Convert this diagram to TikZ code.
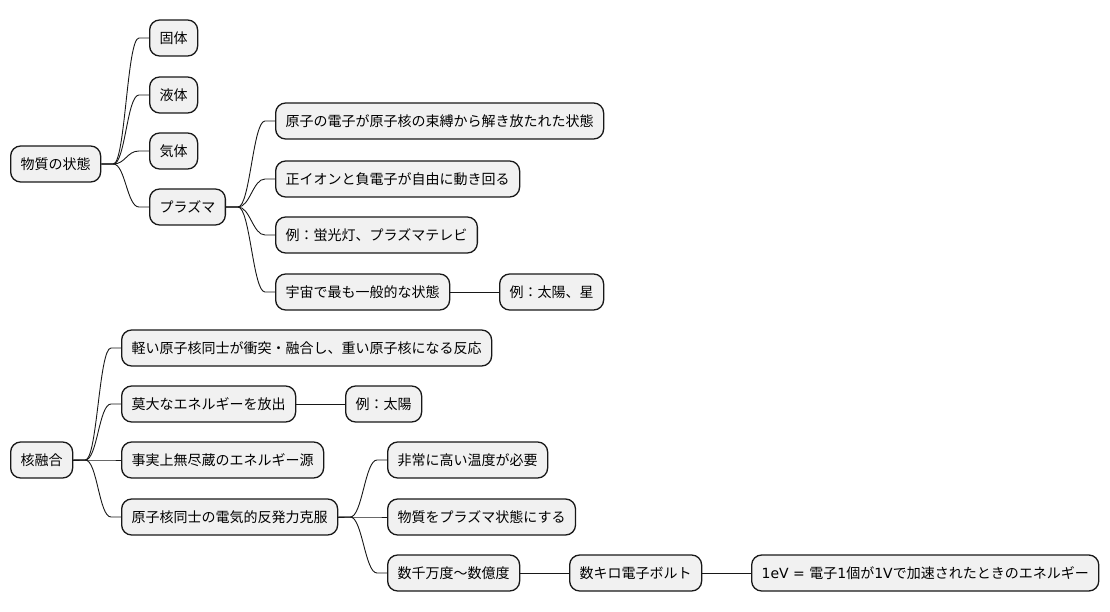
\documentclass[tikz,border=0pt]{standalone}
\usepackage{fontspec}
\setmainfont{Noto Sans CJK JP}
\newfontfamily\latn{DejaVu Sans}
\usetikzlibrary{calc}

\definecolor{boxfill}{HTML}{F1F1F1}
\definecolor{boxline}{HTML}{181818}

\newcommand{\branch}[2]{%
  \draw [link] (#1.east) -- ++(12,0) .. controls +(12,0) and +(-12,0) .. ($(#2.west)+(-10,0)$) -- (#2.west);}

\begin{document}
\begin{tikzpicture}[
    x=1pt, y=-1pt,
    every node/.style={font=\fontsize{14pt}{16pt}\selectfont},
    topic/.style={
        rectangle, rounded corners=10pt,
        minimum height=36pt,
        inner xsep=10pt,
        fill=boxfill, draw=boxline, line width=1.3pt,
        anchor=west
    },
    link/.style={draw=boxline, line width=0.9pt},
]
\useasboundingbox (0,0) rectangle (1110,612);

% Nodes
\node (state) [topic] at (10,164) {物質の状態};
\node (solid) [topic] at (149,38) {固体};
\node (liquid) [topic] at (149,95) {液体};
\node (gas) [topic] at (149,151) {気体};
\node (plasma) [topic] at (149,207) {プラズマ};

\node (freed) [topic] at (275,121) {原子の電子が原子核の束縛から解き放たれた状態};
\node (ions) [topic] at (275,179) {正イオンと負電子が自由に動き回る};
\node (lamp) [topic] at (275,235) {例：蛍光灯、プラズマテレビ};
\node (common) [topic] at (275,292) {宇宙で最も一般的な状態};
\node (stars) [topic] at (499,292) {例：太陽、星};

\node (fusion) [topic] at (10,460) {核融合};
\node (react) [topic] at (121,348) {軽い原子核同士が衝突・融合し、重い原子核になる反応};
\node (energy) [topic] at (121,404) {莫大なエネルギーを放出};
\node (sun) [topic] at (345,404) {例：太陽};
\node (endless) [topic] at (121,460) {事実上無尽蔵のエネルギー源};
\node (repel) [topic] at (121,517) {原子核同士の電気的反発力克服};
\node (hot) [topic] at (387,460) {非常に高い温度が必要};
\node (toplasma) [topic] at (387,517) {物質をプラズマ状態にする};
\node (degrees) [topic] at (387,573) {数千万度～数億度};
\node (kev) [topic] at (569,573) {数キロ電子ボルト};
\node (ev) [topic] at (751,573) {{\latn 1eV = }電子{\latn 1}個が{\latn 1V}で加速されたときのエネルギー};

% Arrows
\branch{state}{solid}
\branch{state}{liquid}
\branch{state}{gas}
\branch{state}{plasma}

\branch{plasma}{freed}
\branch{plasma}{ions}
\branch{plasma}{lamp}
\branch{plasma}{common}
\draw [link] (common) -- (stars);

\branch{fusion}{react}
\branch{fusion}{energy}
\branch{fusion}{endless}
\branch{fusion}{repel}
\draw [link] (energy) -- (sun);

\branch{repel}{hot}
\branch{repel}{toplasma}
\branch{repel}{degrees}
\draw [link] (degrees) -- (kev);
\draw [link] (kev) -- (ev);

\end{tikzpicture}
\end{document}
